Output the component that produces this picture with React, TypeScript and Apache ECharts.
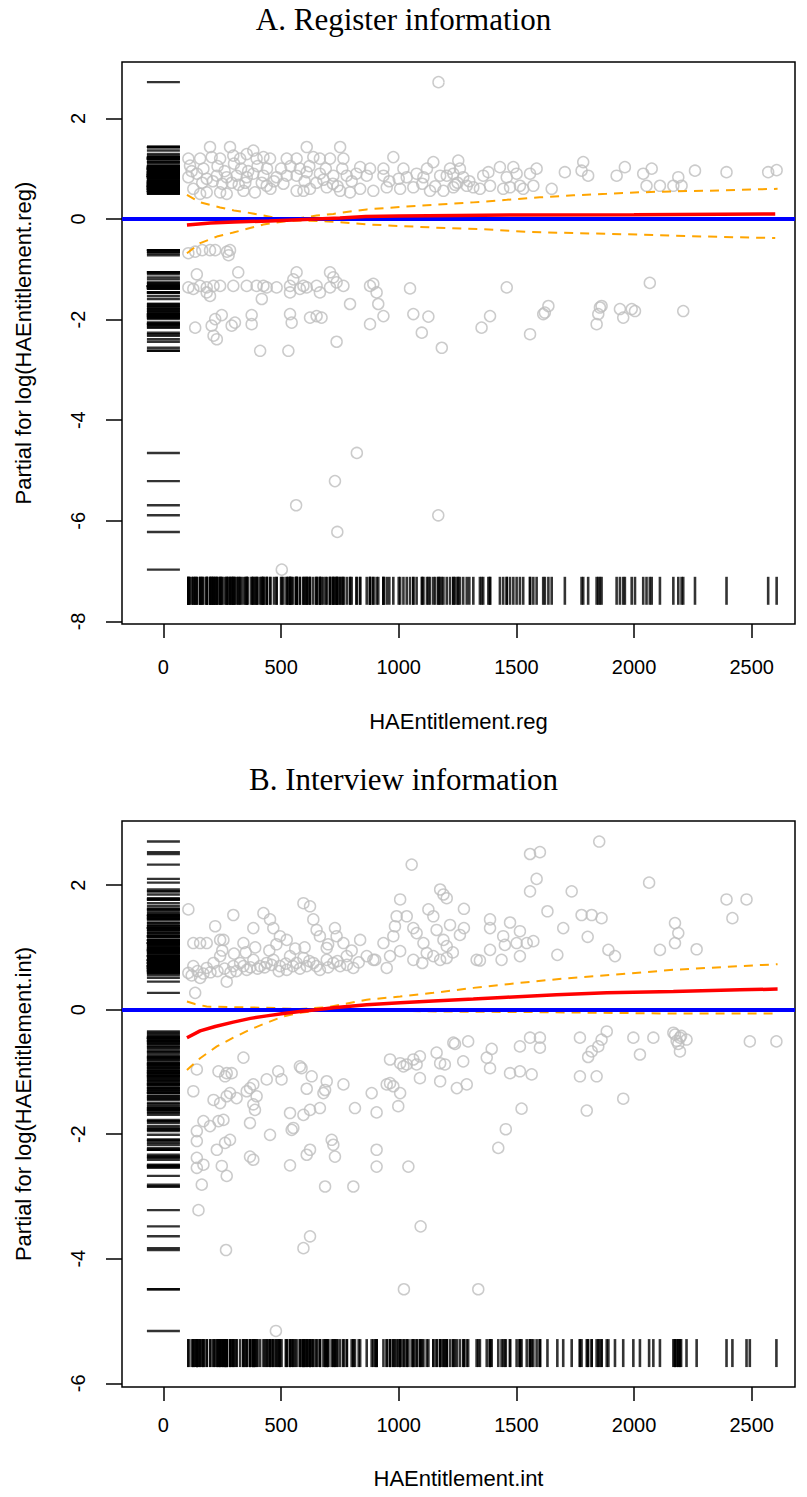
import React, { useEffect, useRef } from 'react';
import * as echarts from 'echarts';

// ---------- ticks ----------
const X_TICKS = [0, 500, 1000, 1500, 2000, 2500];
const Y_TICKS_A = [-8, -6, -4, -2, 0, 2];
const Y_TICKS_B = [-6, -4, -2, 0, 2];

// ---------- Panel A: register information ----------
const regUpper: number[][] = [
  [106,1.20],[113,1.06],[156,1.20],[198,1.43],[205,1.23],[241,1.20],[283,1.43],[297,1.26],[326,1.20],[354,1.29],[382,1.36],[396,1.20],[425,1.23],[453,1.20],
  [106,0.83],[142,0.90],[184,0.80],[227,0.86],[269,0.83],[311,0.86],[354,0.83],[382,0.90],[425,0.86],[481,0.83],
  [127,0.60],[156,0.50],[184,0.53],[241,0.53],[269,0.50],[340,0.56],[389,0.53],[439,0.66],
  [524,1.20],[566,1.20],[609,1.43],[637,1.23],[665,1.20],[708,1.20],[751,1.43],[765,1.20],
  [524,0.86],[566,0.86],[609,0.93],[665,0.90],[722,0.86],[779,0.86],
  [566,0.56],[595,0.56],[623,0.60],[694,0.63],[751,0.56],[793,0.53],
  [836,1.03],[878,1.00],[935,1.00],[977,1.23],[1020,1.00],[1076,0.90],[1147,1.13],[1218,1.00],
  [836,0.60],[892,0.56],[949,0.63],[1006,0.60],[1062,0.63],[1133,0.56],[1190,0.56],[1232,0.63],
  [864,0.86],[935,0.86],[1034,0.83],[1105,0.83],[1176,0.86],[1232,0.90],
  [120,0.95],[170,1.00],[230,1.05],[260,0.95],[300,1.10],[330,1.00],[360,0.95],[400,1.05],[440,1.00],[470,0.75],[500,1.00],
  [165,0.72],[210,0.75],[250,0.70],[290,0.72],[320,0.68],[348,0.72],[418,0.72],[455,0.60],[510,0.70],[540,1.05],[580,1.00],
  [620,1.05],[650,0.72],[690,1.00],[720,0.70],[760,1.00],[600,0.75],[680,0.78],[740,0.65],[800,0.75],[820,0.90],[960,0.75],
  [1000,0.80],[1100,0.70],[1155,0.65],[1250,0.72],[1120,1.00],[1300,0.75],
  [1253,1.16],[1204,0.86],[1260,1.00],[1274,0.83],[1240,0.68],[1289,0.66],[1317,0.63],[1345,0.60],[1359,0.86],[1381,0.93],
  [1388,0.66],[1430,1.03],[1459,0.83],[1487,1.03],[1501,0.90],[1515,0.66],[1444,0.60],[1473,0.63],[1529,0.60],[1558,0.90],
  [1586,1.00],[1572,0.66],[1650,0.60],[1706,0.93],[1784,1.13],[1777,0.96],[1805,0.86],[1926,0.86],[1961,1.03],[2039,0.90],
  [2075,1.00],[2053,0.66],[2110,0.66],[2167,0.66],[2188,0.83],[2202,0.66],[2259,0.96],[2393,0.93],[2570,0.93],[2606,0.97],
];
const regLower: number[][] = [
  [106,-0.68],[135,-0.65],[165,-0.62],[198,-0.62],[220,-0.62],[270,-0.65],[283,-0.62],[277,-0.72],
  [142,-1.10],[106,-1.36],[127,-1.39],[156,-1.33],[184,-1.36],[213,-1.33],[241,-1.33],[184,-1.46],[198,-1.53],[297,-1.33],
  [318,-1.06],[354,-1.33],[396,-1.33],[425,-1.33],[439,-1.36],[418,-1.59],[481,-1.36],[538,-1.33],[552,-1.20],[566,-1.06],
  [580,-1.39],[595,-1.33],[538,-1.46],[609,-1.36],[651,-1.33],[665,-1.46],[708,-1.06],[722,-1.16],[736,-1.26],[765,-1.33],
  [708,-1.36],[878,-1.33],[892,-1.29],[906,-1.46],[1048,-1.38],[793,-1.69],[913,-1.69],[935,-1.93],[1062,-1.89],[1126,-1.94],
  [135,-2.16],[205,-2.12],[220,-1.99],[248,-1.91],[213,-2.32],[227,-2.39],[290,-2.12],[304,-2.06],[375,-1.91],[375,-2.09],
  [538,-1.89],[545,-2.06],[623,-1.96],[651,-1.93],[672,-1.96],[878,-2.09],[1098,-2.26],[1183,-2.56],[411,-2.62],[531,-2.62],
  [736,-2.44],
  [1459,-1.36],[1388,-1.93],[1352,-2.16],[1558,-2.29],[1621,-1.86],[1636,-1.73],[1614,-1.89],[1855,-1.76],[1862,-1.73],
  [1848,-1.89],[1841,-2.09],[1940,-1.79],[1954,-1.96],[1990,-1.79],[2004,-1.83],[2067,-1.27],[2209,-1.83],
];
const regOutliers: number[][] = [
  [1169,2.72],[822,-4.65],[729,-5.21],[564,-5.69],[739,-6.22],[1168,-5.89],[503,-6.97],
];
const regFit: number[][] = [
  [100,-0.12],[200,-0.08],[300,-0.06],[450,-0.04],[600,-0.01],[750,0.02],[860,0.05],[1000,0.06],
  [1250,0.07],[1500,0.08],[2000,0.085],[2600,0.1],
];
const regBandUp: number[][] = [
  [100,0.48],[156,0.33],[241,0.23],[300,0.17],[354,0.13],[425,0.07],[481,0.02],[530,-0.01],[600,0.03],[651,0.07],
  [722,0.10],[793,0.15],[864,0.19],[1006,0.24],[1147,0.28],[1317,0.33],[1459,0.38],[1600,0.43],[1742,0.47],[1884,0.50],
  [2025,0.53],[2167,0.55],[2308,0.56],[2450,0.58],[2610,0.60],
];
const regBandLow: number[][] = [
  [100,-0.68],[156,-0.48],[227,-0.35],[297,-0.27],[368,-0.18],[425,-0.11],[481,-0.07],[530,-0.04],[600,-0.03],[700,-0.05],
  [793,-0.08],[878,-0.11],[1006,-0.14],[1147,-0.17],[1345,-0.20],[1558,-0.26],[1742,-0.28],[2025,-0.31],[2308,-0.35],[2600,-0.38],
];

// ---------- Panel B: interview information ----------
const intUpper: number[][] = [
  [106,1.61],[127,1.07],[156,1.07],[184,1.07],[220,1.34],[241,1.12],[255,1.12],[297,1.52],[340,1.07],[382,1.31],[425,1.55],
  [453,1.45],[467,1.31],[495,1.18],[524,1.12],[595,1.71],[623,1.66],[637,1.45],[651,1.28],[665,1.18],[694,0.99],[729,1.31],
  [736,1.18],[765,1.07],[836,1.12],[935,1.07],[977,1.18],[991,1.50],[1006,1.77],[1034,1.50],[984,1.34],[1062,1.31],[1076,1.23],
  [1105,1.07],[1126,1.61],[1147,1.50],[1176,1.93],[1204,1.79],[1190,1.85],[1218,1.36],[1161,1.28],[1190,1.12],[1204,1.02],[1055,2.33],
  [106,0.59],[127,0.70],[156,0.51],[184,0.67],[213,0.75],[241,0.86],[269,0.45],[297,0.70],[326,0.75],[354,0.64],[382,0.80],
  [411,0.70],[439,0.75],[467,0.80],[495,0.70],[524,0.64],[538,0.86],[566,0.75],[595,0.83],[609,0.70],[637,0.75],[665,0.64],
  [694,0.80],[722,0.75],[751,0.70],[779,0.86],[807,0.67],[864,0.86],[892,0.80],[949,0.67],[963,0.86],[1006,0.94],[1062,0.80],
  [1119,0.91],[1147,0.86],[1176,0.80],[1204,0.83],[135,0.27],
  [120,0.55],[145,0.62],[170,0.58],[200,0.60],[230,0.62],[260,0.66],[285,0.60],[310,0.62],[340,0.70],[370,0.68],[400,0.66],
  [430,0.68],[460,0.72],[490,0.62],[520,0.74],[550,0.70],[580,0.66],[620,0.78],[650,0.70],[700,0.68],[740,0.78],[780,0.72],
  [830,0.76],[900,0.80],[250,0.95],[300,0.90],[350,0.92],[390,1.00],[450,0.95],[480,1.05],[560,0.98],[600,1.00],[700,1.05],
  [800,0.95],[1100,0.75],[1230,0.92],[1260,1.20],
  [1852,2.70],[1558,2.50],[1600,2.53],[1586,2.10],[1558,1.90],[1735,1.90],[2064,2.04],[2393,1.77],[2478,1.77],[2418,1.47],
  [1277,1.62],[1632,1.58],[1388,1.45],[1388,1.31],[1473,1.40],[1277,1.31],[1515,1.26],[1777,1.52],[1820,1.52],[1862,1.47],
  [1699,1.31],[1444,1.18],[1451,1.04],[1501,1.07],[1544,1.07],[1572,1.10],[1388,0.96],[1515,0.86],[1437,0.80],[1331,0.80],
  [1345,0.79],[1674,0.88],[1803,1.17],[1891,0.96],[1919,0.86],[2174,1.39],[2188,1.23],[2174,1.07],[2110,0.96],[2266,0.97],
];
const intLower: number[][] = [
  [142,-0.96],[234,-0.99],[269,-1.02],[340,-0.77],[580,-0.91],[963,-0.80],[1006,-0.86],[1020,-0.91],[1062,-0.80],[1090,-0.75],
  [1161,-0.69],[1176,-0.86],[1232,-0.53],
  [127,-1.31],[262,-1.07],[290,-1.02],[439,-1.12],[488,-0.99],[502,-1.12],[587,-0.94],[630,-1.07],[609,-1.27],[694,-1.15],
  [687,-1.29],[680,-1.34],[765,-1.20],[213,-1.45],[241,-1.50],[269,-1.39],[283,-1.34],[311,-1.42],[368,-1.26],[382,-1.20],
  [396,-1.39],[382,-1.52],[389,-1.61],[354,-1.31],[170,-1.79],[198,-1.87],[234,-1.79],[255,-1.77],[142,-1.95],[142,-2.11],
  [227,-2.25],[262,-2.14],[283,-2.09],[368,-1.82],[453,-2.01],[538,-1.66],[552,-1.90],[545,-1.93],[595,-1.69],[623,-1.61],
  [665,-1.58],[142,-2.38],[170,-2.49],[142,-2.54],[248,-2.51],[269,-2.67],[368,-2.36],[382,-2.41],[538,-2.50],[609,-2.33],
  [623,-2.25],[715,-2.09],[722,-2.17],[729,-2.36],[814,-1.58],[885,-1.34],[906,-1.65],[906,-2.25],[906,-2.52],[998,-1.55],
  [1006,-1.34],[963,-1.18],[949,-1.20],[977,-1.23],[1041,-2.52],[687,-2.84],[807,-2.84],[163,-2.81],[149,-3.22],[266,-3.86],
  [595,-3.83],[623,-3.64],[1093,-3.48],[1022,-4.49],[478,-5.16],[1034,-0.88],[1076,-0.88],[1090,-1.10],[1176,-1.15],[1247,-1.26],
  [1954,-1.43],[1799,-1.62],[1522,-1.59],[1455,-1.92],[1423,-2.22],[1289,-1.20],[1338,-4.49],
  [1884,-0.35],[1862,-0.48],[1848,-0.59],[1820,-0.67],[1805,-0.76],[1770,-0.45],[1997,-0.45],[2082,-0.45],[2025,-0.72],
  [2167,-0.37],[2195,-0.45],[2223,-0.48],[2195,-0.67],[2492,-0.51],[2605,-0.51],[1558,-0.45],[1600,-0.45],[1515,-0.59],
  [1600,-0.61],[1395,-0.63],[1374,-0.77],[1388,-0.94],[1295,-0.51],[1239,-0.55],[1274,-0.83],[1196,-0.88],[1473,-1.02],
  [1515,-0.99],[1565,-1.04],[1770,-1.07],[1841,-1.07],[2174,-0.40],[2181,-0.50],[2188,-0.55],[2200,-0.42],
];
const intFit: number[][] = [
  [100,-0.45],[156,-0.34],[220,-0.27],[297,-0.20],[370,-0.14],[439,-0.10],[510,-0.06],[580,-0.03],[650,0.0],[722,0.03],
  [864,0.08],[1006,0.11],[1147,0.14],[1317,0.17],[1459,0.20],[1671,0.24],[1884,0.27],[2167,0.29],[2450,0.32],[2610,0.33],
];
const intBandUp: number[][] = [
  [100,0.13],[134,0.09],[184,0.05],[297,0.04],[439,0.03],[580,0.01],[700,0.04],[780,0.10],[864,0.16],[1006,0.21],
  [1147,0.27],[1317,0.35],[1515,0.43],[1700,0.50],[1912,0.56],[2167,0.64],[2450,0.70],[2610,0.73],
];
const intBandLow: number[][] = [
  [100,-0.97],[156,-0.78],[227,-0.59],[297,-0.45],[368,-0.32],[439,-0.21],[509,-0.11],[580,-0.05],[650,-0.02],[722,-0.01],
  [864,-0.01],[1006,-0.02],[1175,-0.03],[1600,-0.04],[2110,-0.06],[2610,-0.06],
];

// rug positions (where the tick marks sit)
const RUG_Y_A = -7.39;
const RUG_Y_B = -5.515;
const RUG_X = 0;

const SANS = 'Liberation Sans, Arial, sans-serif';
const SERIF = 'Liberation Serif, Times New Roman, serif';

function panelSeries(idx: number, pts: number[][], fit: number[][], up: number[][], low: number[][], rugY: number) {
  const base = { xAxisIndex: idx, yAxisIndex: idx, silent: true, animation: false };
  const dash = { color: '#FFA500', width: 2, type: [9, 7] };
  return [
    {
      ...base, type: 'scatter', data: pts, symbol: 'circle', symbolSize: 11, z: 2,
      itemStyle: { color: 'rgba(0,0,0,0)', borderColor: '#BEBEBE', borderWidth: 1.5 },
    },
    {
      ...base, type: 'scatter', data: pts.map((d) => [d[0], rugY]), symbol: 'rect', symbolSize: [2.6, 28], z: 3,
      itemStyle: { color: '#000' },
    },
    {
      ...base, type: 'scatter', data: pts.map((d) => [RUG_X, d[1]]), symbol: 'rect', symbolSize: [33, 2.4], z: 3,
      itemStyle: { color: '#000' },
    },
    { ...base, type: 'line', data: up, showSymbol: false, z: 4, lineStyle: dash },
    { ...base, type: 'line', data: low, showSymbol: false, z: 4, lineStyle: dash },
    {
      ...base, type: 'line', data: fit, showSymbol: false, z: 5,
      lineStyle: { color: '#FF0000', width: 3.5 },
    },
    {
      ...base, type: 'line', data: [], z: 6,
      markLine: {
        silent: true, symbol: ['none', 'none'], label: { show: false },
        lineStyle: { color: '#0000FF', width: 4, type: 'solid' },
        data: [{ yAxis: 0 }],
      },
    },
  ];
}

function xAxisDef(idx: number, name: string, labelMargin: number, nameGap: number) {
  return {
    gridIndex: idx, type: 'value', min: -176, max: 2684,
    name, nameLocation: 'middle', nameGap,
    nameTextStyle: { fontFamily: SANS, fontSize: 22, color: '#000' },
    axisLine: { show: false, onZero: false },
    splitLine: { show: false },
    axisTick: { show: true, length: 14, lineStyle: { color: '#000', width: 1.5 }, customValues: X_TICKS },
    axisLabel: {
      customValues: X_TICKS, margin: labelMargin, fontFamily: SANS, fontSize: 20, color: '#000',
      formatter: (v: number) => String(v),
    },
  };
}

function yAxisDef(idx: number, name: string, min: number, max: number, ticks: number[]) {
  return {
    gridIndex: idx, type: 'value', min, max,
    name, nameLocation: 'middle', nameGap: 88,
    nameTextStyle: { fontFamily: SANS, fontSize: 22, color: '#000' },
    axisLine: { show: false, onZero: false },
    splitLine: { show: false },
    axisTick: { show: true, length: 16, lineStyle: { color: '#000', width: 1.5 }, customValues: ticks },
    axisLabel: {
      customValues: ticks, rotate: 90, margin: 34, fontFamily: SANS, fontSize: 20, color: '#000',
      formatter: (v: number) => String(v),
    },
  };
}

const option = {
  animation: false,
  backgroundColor: '#ffffff',
  title: [
    { text: 'A. Register information', left: 'center', top: 4, padding: 0,
      textStyle: { fontFamily: SERIF, fontSize: 31, fontWeight: 'normal', color: '#000' } },
    { text: 'B. Interview information', left: 'center', top: 764, padding: 0,
      textStyle: { fontFamily: SERIF, fontSize: 31, fontWeight: 'normal', color: '#000' } },
  ],
  grid: [
    { left: 122, top: 62, width: 673, height: 562, show: true, borderColor: '#000', borderWidth: 1.5, backgroundColor: 'rgba(0,0,0,0)' },
    { left: 122, top: 821, width: 673, height: 566, show: true, borderColor: '#000', borderWidth: 1.5, backgroundColor: 'rgba(0,0,0,0)' },
  ],
  xAxis: [xAxisDef(0, 'HAEntitlement.reg', 33, 86), xAxisDef(1, 'HAEntitlement.int', 28, 80)],
  yAxis: [
    yAxisDef(0, 'Partial for log(HAEntitlement.reg)', -8.05, 3.12, Y_TICKS_A),
    yAxisDef(1, 'Partial for log(HAEntitlement.int)', -6.06, 3.03, Y_TICKS_B),
  ],
  series: [
    ...panelSeries(0, [...regUpper, ...regLower, ...regOutliers], regFit, regBandUp, regBandLow, RUG_Y_A),
    ...panelSeries(1, [...intUpper, ...intLower], intFit, intBandUp, intBandLow, RUG_Y_B),
  ],
};

export default function App() {
  const ref = useRef<HTMLDivElement>(null);
  useEffect(() => {
    const chart = echarts.init(ref.current as HTMLDivElement, null, { renderer: 'svg' });
    chart.setOption(option as any);
    return () => chart.dispose();
  }, []);
  return (
    <div
      ref={ref}
      style={{ position: 'absolute', left: 0, top: 0, width: 807, height: 1497, background: '#fff' }}
    />
  );
}
